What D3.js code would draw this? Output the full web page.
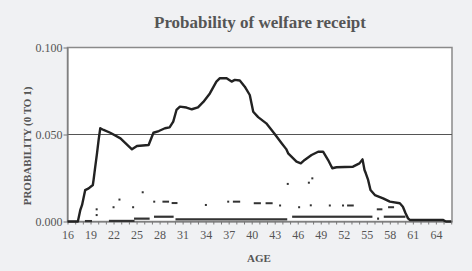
<!DOCTYPE html>
<html>
<head>
<meta charset="utf-8">
<script src="https://cdn.jsdelivr.net/npm/d3@7"></script>
<style>
  body { margin: 0; background: #f0f1f3; }
  svg { display: block; }
  text { font-family: "Liberation Serif", "Times New Roman", serif; fill: #555; }
</style>
</head>
<body>
<svg id="chart" width="472" height="271"></svg>
<script>
(function(){

  // main estimate: age, probability
  var ages = [16, 17.35, 17.67, 17.9, 18.3, 18.76, 19.3, 19.4, 19.6, 19.84, 20.06, 20.27, 20.7, 21.57, 22.9, 24.4, 25.05, 26.57,
    27.2, 27.9, 28.7, 29.3, 29.78, 30.2, 30.65, 31.5, 32.2, 33.0, 33.7, 34.55, 35.4, 35.86, 36.73, 37.38, 37.8, 38.45,
    39.1, 39.75, 40.2, 40.84, 41.9, 43.0, 43.9, 44.5, 44.75, 45.84, 46.4, 46.9, 47.8, 48.66, 49.3, 49.96, 50.5, 51.05,
    53.2, 54.04, 54.44, 54.7, 54.87, 55.17, 55.48, 56.05, 57.12, 58.0, 59.3, 59.7, 60.05, 60.37, 60.6, 64.9, 65.3, 66];
  var probs = [0, 0, 0.0066, 0.0095, 0.018, 0.019, 0.021, 0.024, 0.031, 0.039, 0.047, 0.0536, 0.0526, 0.051, 0.0478, 0.0415, 0.0434, 0.044,
    0.051, 0.052, 0.0536, 0.0541, 0.0574, 0.0641, 0.066, 0.0655, 0.0645, 0.0656, 0.0687, 0.0736, 0.0804, 0.0824, 0.0823, 0.0804, 0.0814, 0.081,
    0.0775, 0.0727, 0.0631, 0.060, 0.0564, 0.0503, 0.045, 0.0416, 0.0392, 0.0344, 0.0334, 0.0354, 0.0382, 0.0401, 0.0401, 0.0353, 0.0306, 0.0312,
    0.0315, 0.0334, 0.0357, 0.0296, 0.0277, 0.0239, 0.0181, 0.0152, 0.0133, 0.0114, 0.0105, 0.0085, 0.0047, 0.0018, 0.0009, 0.0009, 0, 0];

  // scattered upper markers: [from age, to age, probability]
  var upperMarks = [
    [19.8, 19.8, 0.0070], [19.8, 19.8, 0.0037], [22.0, 22.0, 0.0082], [22.77, 22.77, 0.0126], [24.55, 24.55, 0.0082],
    [25.8, 25.8, 0.0168], [27.3, 27.3, 0.0114], [28.5, 29.1, 0.0114], [29.7, 30.2, 0.0106], [34.03, 34.03, 0.0095],
    [36.94, 36.94, 0.0114], [37.68, 38.37, 0.0114], [40.4, 41.07, 0.0105], [41.94, 42.6, 0.0105], [43.7, 43.7, 0.0092],
    [44.7, 44.7, 0.0216], [46.18, 46.18, 0.0082], [47.45, 47.45, 0.0223], [47.9, 47.9, 0.0248], [47.7, 47.7, 0.0093],
    [50.18, 50.18, 0.0092], [51.9, 51.9, 0.0092], [52.56, 53.17, 0.0092], [56.43, 56.9, 0.0070], [57.9, 58.42, 0.0082]
  ];

  // lower markers near zero: [from age, to age, probability]
  var lowerMarks = [
    [18.4, 19.06, 0.0003], [21.53, 24.6, 0.0004], [24.8, 26.57, 0.0017], [27.4, 29.7, 0.0028], [30.2, 44.5, 0.0013],
    [45.4, 55.6, 0.0028], [56.47, 56.47, 0.0017], [57.34, 59.9, 0.0028]
  ];

  var yTicks = [0, 0.05, 0.1];
  var yTickLabels = ['0.000', '0.050', '0.100'];
  var xTickLabels = d3.range(16, 65, 3);

  var svg = d3.select('#chart');
  var LEFT = 67.5, RIGHT = 452, TOP = 47.5, BOTTOM = 221.5;

  var x = d3.scaleLinear().domain([16, 66.1]).range([LEFT, RIGHT]);
  var y = d3.scaleLinear().domain([0, 0.1]).range([BOTTOM, TOP]);

  // title
  svg.append('text')
    .attr('x', 260).attr('y', 28)
    .attr('text-anchor', 'middle')
    .style('font-size', '17px').style('font-weight', 'bold')
    .text('Probability of welfare receipt');

  // plot area
  svg.append('rect')
    .attr('x', LEFT).attr('y', TOP)
    .attr('width', RIGHT - LEFT).attr('height', BOTTOM - TOP)
    .attr('fill', '#fff')
    .attr('stroke', '#8a8a8a').attr('stroke-width', 1.5);

  // reference line at 0.05
  svg.append('line')
    .attr('x1', LEFT).attr('x2', RIGHT)
    .attr('y1', y(0.05)).attr('y2', y(0.05))
    .attr('stroke', '#555').attr('stroke-width', 1);

  // y axis
  var yAxis = svg.append('g')
    .attr('transform', 'translate(' + LEFT + ',0)')
    .call(d3.axisLeft(y).tickValues(yTicks).tickSize(4).tickSizeOuter(0)
      .tickFormat(function (d, i) { return yTickLabels[i] }));
  yAxis.select('.domain').attr('stroke', '#777');
  yAxis.selectAll('.tick line').attr('stroke', '#777');
  yAxis.selectAll('.tick text')
    .attr('x', -5)
    .style('font-size', '12px').style('font-family', '"Liberation Serif", serif').attr('fill', '#555');

  // x axis
  var xAxis = svg.append('g')
    .attr('transform', 'translate(0,' + BOTTOM + ')')
    .call(d3.axisBottom(x).tickValues(d3.range(16, 67)).tickSize(3).tickSizeOuter(0)
      .tickFormat(function (d) { return xTickLabels.indexOf(d) >= 0 ? d : '' }));
  xAxis.select('.domain').attr('stroke', '#777');
  xAxis.selectAll('.tick line').attr('stroke', '#777');
  xAxis.selectAll('.tick text')
    .attr('y', 9)
    .style('font-size', '12px').style('font-family', '"Liberation Serif", serif').attr('fill', '#555');

  // axis titles
  svg.append('text')
    .attr('x', 259).attr('y', 261.5)
    .attr('text-anchor', 'middle')
    .style('font-size', '11px').style('font-weight', 'bold')
    .text('AGE');

  svg.append('text')
    .attr('transform', 'translate(30.5,146) rotate(-90)')
    .attr('text-anchor', 'middle')
    .style('font-size', '11px').style('font-weight', 'bold')
    .text('PROBABILITY (0 TO 1)');

  // lower markers
  svg.append('g')
    .selectAll('rect')
    .data(lowerMarks)
    .join('rect')
    .attr('x', function (d) { return x(d[0]) - 1 })
    .attr('y', function (d) { return y(d[2]) - 1 })
    .attr('width', function (d) { return x(d[1]) - x(d[0]) + 2 })
    .attr('height', 2.2)
    .attr('fill', '#333');

  // upper markers
  svg.append('g')
    .selectAll('rect')
    .data(upperMarks)
    .join('rect')
    .attr('x', function (d) { return x(d[0]) - 1 })
    .attr('y', function (d) { return y(d[2]) - 1 })
    .attr('width', function (d) { return x(d[1]) - x(d[0]) + 2 })
    .attr('height', 2)
    .attr('fill', '#333');

  // main line
  var line = d3.line()
    .x(function (d, i) { return x(ages[i]) })
    .y(function (d) { return y(d) });

  svg.append('path')
    .attr('d', line(probs))
    .attr('fill', 'none')
    .attr('stroke', '#222')
    .attr('stroke-width', 2.4)
    .attr('stroke-linejoin', 'round');

})()
</script>
</body>
</html>
